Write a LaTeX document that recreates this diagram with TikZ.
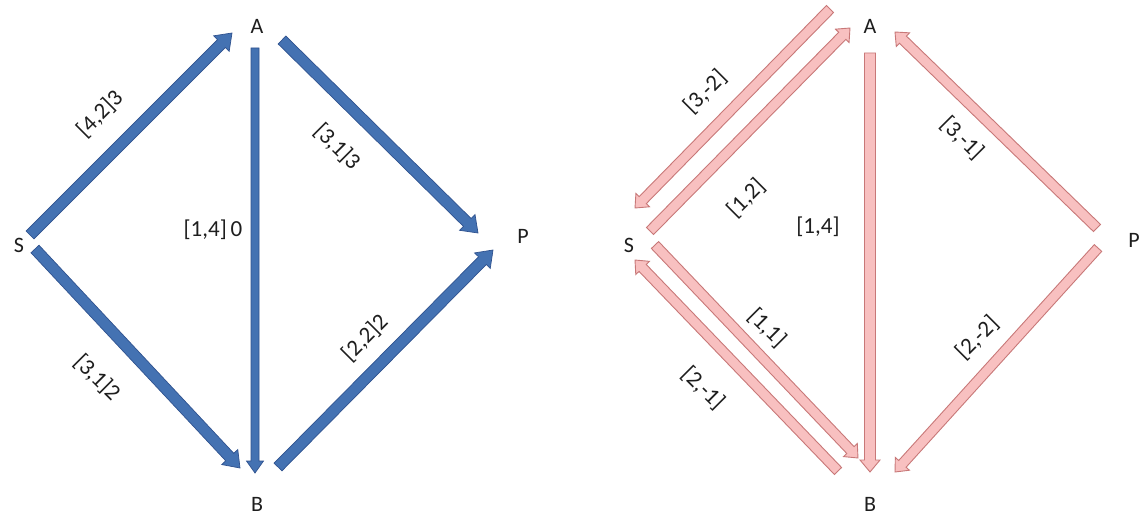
\documentclass[tikz,border=0pt]{standalone}
\usepackage{fontspec}
\setmainfont{Carlito}
\usetikzlibrary{calc}

\definecolor{bluefill}{RGB}{68,114,178}
\definecolor{blueline}{RGB}{47,82,143}
\definecolor{pinkfill}{RGB}{248,192,192}
\definecolor{pinkline}{RGB}{200,120,120}
\definecolor{labeltext}{RGB}{30,30,30}

% block arrow: #1 style, #2 tail coordinate, #3 tip coordinate,
% #4 half shaft width, #5 half head width, #6 head length
\newcommand\blockarrow[6]{%
  \coordinate (ba-h) at ($(#3)!#6!(#2)$);
  \draw[#1] ($(#2)!#4!90:(#3)$) -- ($(ba-h)!#4!90:(#3)$)
    -- ($(ba-h)!#5!90:(#3)$) -- (#3) -- ($(ba-h)!#5!-90:(#3)$)
    -- ($(ba-h)!#4!-90:(#3)$) -- ($(#2)!#4!-90:(#3)$) -- cycle;
}

\tikzset{
  vertex/.style={font=\fontsize{22}{24}\selectfont, text=labeltext, inner sep=1pt},
  weight/.style={font=\fontsize{23}{25}\selectfont, text=labeltext, inner sep=1pt},
  bluearrow/.style={fill=bluefill, draw=blueline, line width=0.7pt, line join=miter},
  pinkarrow/.style={fill=pinkfill, draw=pinkline, line width=0.9pt, line join=miter},
}

\begin{document}
\begin{tikzpicture}[x=1pt, y=-1pt]
\useasboundingbox[fill=white] (0,0) rectangle (1144,519);

% ---------------- network with flows ----------------
\node[vertex] (A1) at (257,26) {A};
\node[vertex] (B1) at (257,504) {B};
\node[vertex] (S1) at (19,245) {S};
\node[vertex] (P1) at (523,236) {P};

\coordinate (sa-t) at (30,235);   \coordinate (sa-h) at (232,33);
\coordinate (ab-t) at (255,48);   \coordinate (ab-h) at (255,473);
\coordinate (ap-t) at (282,40);   \coordinate (ap-h) at (478,233);
\coordinate (sb-t) at (35,249);   \coordinate (sb-h) at (240,468);
\coordinate (bp-t) at (278,467);  \coordinate (bp-h) at (493,250);

\blockarrow{bluearrow}{sa-t}{sa-h}{5.5pt}{11pt}{15pt}
\blockarrow{bluearrow}{ab-t}{ab-h}{4pt}{8.5pt}{12pt}
\blockarrow{bluearrow}{ap-t}{ap-h}{5.5pt}{11pt}{15pt}
\blockarrow{bluearrow}{sb-t}{sb-h}{5.5pt}{11pt}{15pt}
\blockarrow{bluearrow}{bp-t}{bp-h}{5.5pt}{11pt}{15pt}

\node[weight, rotate=45]  (w-sa) at (100,114) {[4,2]3};
\node[weight, rotate=-45] (w-ap) at (337,147) {[3,1]3};
\node[weight]             (w-ab) at (213,230) {[1,4]\,0};
\node[weight, rotate=-45] (w-sb) at (97,378)  {[3,1]2};
\node[weight, rotate=45]  (w-bp) at (365,338) {[2,2]2};

% ---------------- residual network ----------------
\node[vertex] (A2) at (870,26) {A};
\node[vertex] (B2) at (870,504) {B};
\node[vertex] (S2) at (629,245) {S};
\node[vertex] (P2) at (1134,240) {P};

\coordinate (as-t) at (830,9);    \coordinate (as-h) at (635,208);
\coordinate (sa2-t) at (650,231); \coordinate (sa2-h) at (850,28);
\coordinate (ab2-t) at (870,53);  \coordinate (ab2-h) at (870,472);
\coordinate (pa-t) at (1097,228); \coordinate (pa-h) at (895,32);
\coordinate (sb2-t) at (655,245); \coordinate (sb2-h) at (858,458);
\coordinate (bs-t) at (838,471);  \coordinate (bs-h) at (635,260);
\coordinate (pb-t) at (1098,248); \coordinate (pb-h) at (895,472);

\blockarrow{pinkarrow}{as-t}{as-h}{5pt}{9.5pt}{11pt}
\blockarrow{pinkarrow}{sa2-t}{sa2-h}{5pt}{9.5pt}{11pt}
\blockarrow{pinkarrow}{ab2-t}{ab2-h}{5.5pt}{10pt}{12pt}
\blockarrow{pinkarrow}{pa-t}{pa-h}{5pt}{9.5pt}{11pt}
\blockarrow{pinkarrow}{sb2-t}{sb2-h}{5pt}{9.5pt}{11pt}
\blockarrow{pinkarrow}{bs-t}{bs-h}{5pt}{9.5pt}{11pt}
\blockarrow{pinkarrow}{pb-t}{pb-h}{5pt}{9.5pt}{11pt}

\node[weight, rotate=45]  (r-as) at (705,92)  {[3,-2]};
\node[weight, rotate=45]  (r-sa) at (746,198) {[1,2]};
\node[weight]             (r-ab) at (818,227) {[1,4]};
\node[weight, rotate=-45] (r-pa) at (962,138) {[3,-1]};
\node[weight, rotate=-45] (r-sb) at (767,328) {[1,1]};
\node[weight, rotate=-45] (r-bs) at (703,388) {[2,-1]};
\node[weight, rotate=45]  (r-pb) at (977,338) {[2,-2]};
\end{tikzpicture}
\end{document}
